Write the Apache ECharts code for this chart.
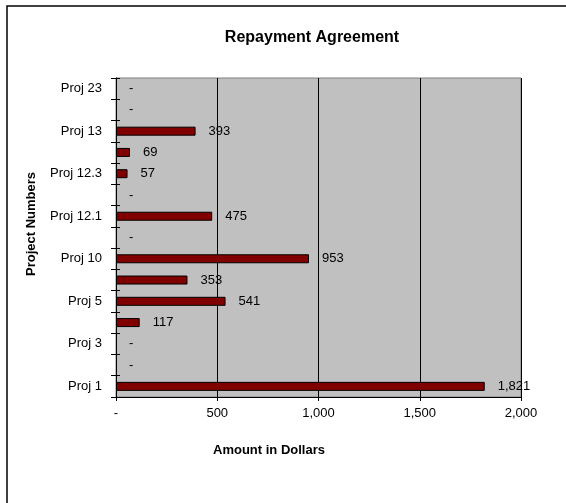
<!DOCTYPE html>
<html>
<head>
<meta charset="utf-8">
<script src="https://cdn.jsdelivr.net/npm/echarts@6/dist/echarts.min.js"></script>
<style>
  html, body { margin: 0; padding: 0; background: #fff; }
  #chart { width: 566px; height: 503px; }
</style>
</head>
<body>
<div id="chart"></div>
<script>
// categories bottom -> top (every other one is labelled on the axis)
const projects = ['Proj 1', 'Proj 2', 'Proj 3', 'Proj 4', 'Proj 5', 'Proj 6', 'Proj 10', 'Proj 11',
    'Proj 12.1', 'Proj 12.2', 'Proj 12.3', 'Proj 12.4', 'Proj 13', 'Proj 14', 'Proj 23'];
const amounts = [1821, 0, 0, 117, 541, 353, 953, 0, 475, 0, 57, 69, 393, 0, 0];
const xTicks = [0, 500, 1000, 1500, 2000];

const FONT = 'Liberation Sans, Arial, sans-serif';

// Excel style: zero shows as "-", thousands with comma
function fmt(v) {
    if (v === 0) return '-';
    return v.toLocaleString('en-US');
}

const chart = echarts.init(document.getElementById('chart'));

// zero bars draw nothing, only their "-" label
const barData = amounts.map(v => v === 0 ? { value: 0, itemStyle: { borderWidth: 0 } } : v);

const option = {
    backgroundColor: '#fff',
    animation: false,
    textStyle: { fontFamily: FONT },
    title: {
        text: 'Repayment Agreement',
        left: 307,
        top: 25,
        textAlign: 'center',
        textStyle: { fontFamily: FONT, fontSize: 16, fontWeight: 'bold', color: '#000' }
    },
    graphic: [
        // outer chart frame (only top/left edges fall inside the window)
        {
            type: 'rect',
            shape: { x: 7, y: 6, width: 700, height: 700 },
            style: { fill: 'none', stroke: '#000', lineWidth: 1.5 },
            z: 0
        },
        {
            type: 'text',
            left: 213,
            top: 444,
            style: { text: 'Amount in Dollars', font: 'bold 13px ' + FONT, fill: '#000' }
        },
        {
            type: 'text',
            x: 25,
            y: 276,
            rotation: Math.PI / 2,
            style: { text: 'Project Numbers', font: 'bold 13px ' + FONT, fill: '#000' }
        }
    ],
    grid: {
        left: 116,
        top: 78,
        width: 405,
        height: 319,
        show: true,
        backgroundColor: '#c0c0c0',
        borderColor: '#808080',
        borderWidth: 1
    },
    xAxis: {
        type: 'value',
        min: 0,
        max: 2000,
        interval: 500,
        axisLine: { show: true, onZero: false, lineStyle: { color: '#000' } },
        axisTick: { show: true, length: 4, lineStyle: { color: '#000' } },
        axisLabel: {
            margin: 10,
            fontSize: 13,
            color: '#000',
            fontFamily: FONT,
            formatter: v => xTicks.includes(v) ? fmt(v) : ''
        },
        splitLine: { show: true, lineStyle: { color: '#000', width: 1 } }
    },
    yAxis: [{
        type: 'category',
        data: projects,
        axisLine: { show: true, lineStyle: { color: '#000' } },
        axisTick: { show: true, length: 5, interval: 0, lineStyle: { color: '#000' } },
        axisLabel: {
            interval: 1,
            margin: 14,
            fontSize: 13,
            color: '#000',
            fontFamily: FONT
        },
        splitLine: { show: false }
    }, {
        // second copy of the axis just for the inner half of the crossing ticks
        type: 'category',
        data: projects,
        position: 'left',
        offset: 0,
        axisLine: { show: false },
        axisTick: { show: true, inside: true, length: 4, interval: 0, lineStyle: { color: '#000' } },
        axisLabel: { show: false },
        splitLine: { show: false }
    }],
    series: [{
        type: 'bar',
        data: barData,
        barWidth: 9,
        itemStyle: { color: '#800000', borderColor: '#000', borderWidth: 1 },
        label: {
            show: true,
            position: 'right',
            distance: 13,
            fontSize: 13,
            color: '#000',
            fontFamily: FONT,
            formatter: p => fmt(p.value)
        }
    }]
};

chart.setOption(option);
</script>
</body>
</html>
